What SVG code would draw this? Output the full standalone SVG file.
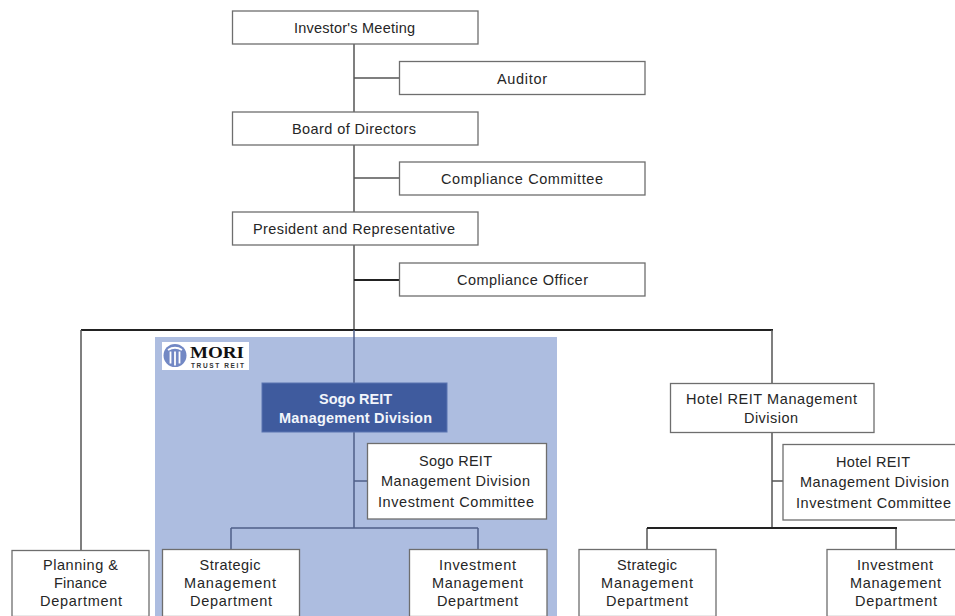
<svg xmlns="http://www.w3.org/2000/svg" width="955" height="616" viewBox="0 0 955 616">
<style>
.box{fill:#fff;stroke:#6e6e6e;stroke-width:1.3}
.t{font-family:"Liberation Sans",Arial,sans-serif;font-size:14.5px;fill:#262626;text-anchor:middle}
.w{fill:#f2f5fb;font-weight:700}
.c{fill:none;stroke:#555;stroke-width:1.5}
.k{fill:none;stroke:#222;stroke-width:2}
.b{fill:none;stroke:#4f5f88;stroke-width:1.5}
</style>
<rect id="sogo-area" x="155" y="337" width="402" height="279" fill="#adbde0"/>
<g id="connectors">
<path class="c" d="M354 44V330M354 78H399M354 178H399"/>
<path class="k" d="M354 280H399M81 330H773"/>
<path class="c" d="M81 330V550M772 330V383M772 433V528M772 481H783M647 528V549M896 528V549"/>
<path class="k" d="M647 528H897"/>
<path class="b" d="M354 330V383M354 432V528M354 481H367M231 528H478M231 528V549M478 528V549"/>
</g>
<g id="logo">
<rect x="162" y="342" width="87" height="28" fill="#fff"/>
<circle cx="175" cy="355.500" r="11.500" fill="#7288c4"/>
<path d="M168 350Q175 345.500 182 350M170.500 351.500V363.500M175 351.500V365.500M179.500 351.500V363.500" fill="none" stroke="#fff" stroke-width="1.800"/>
<text x="190" y="358" font-family="Liberation Serif,serif" font-size="16.500" font-weight="700" fill="#111" textLength="54" lengthAdjust="spacingAndGlyphs">MORI</text>
<text x="191" y="368" font-family="Liberation Sans,sans-serif" font-size="6.500" font-weight="700" fill="#333" textLength="53" lengthAdjust="spacing">TRUST REIT</text>
</g>
<g id="investors-meeting"><rect class="box" x="232.500" y="11" width="245.500" height="33"/><text class="t" x="354.500" y="33" textLength="121">Investor's Meeting</text></g>
<g id="auditor"><rect class="box" x="399.500" y="61.500" width="245.500" height="33"/><text class="t" x="522" y="83.500" textLength="50">Auditor</text></g>
<g id="board"><rect class="box" x="232.500" y="112" width="245.500" height="33"/><text class="t" x="354" y="134" textLength="124">Board of Directors</text></g>
<g id="compliance-committee"><rect class="box" x="399.500" y="162" width="245.500" height="33"/><text class="t" x="522" y="183.500" textLength="162">Compliance Committee</text></g>
<g id="president"><rect class="box" x="232.500" y="212" width="245.500" height="33"/><text class="t" x="354" y="234" textLength="202">President and Representative</text></g>
<g id="compliance-officer"><rect class="box" x="399.500" y="263" width="245.500" height="33"/><text class="t" x="522.500" y="285" textLength="131">Compliance Officer</text></g>
<g id="sogo-division"><rect x="262" y="383" width="185" height="49" fill="#3f5b9e" stroke="#5a74b0"/><text class="t w" x="355.500" y="404" textLength="73">Sogo REIT</text><text class="t w" x="355.500" y="422.500" textLength="153">Management Division</text></g>
<g id="sogo-committee"><rect class="box" x="367.500" y="443.500" width="179" height="75.500"/><text class="t" x="455.500" y="465.500" textLength="73">Sogo REIT</text><text class="t" x="455.500" y="485.500" textLength="149">Management Division</text><text class="t" x="456" y="507" textLength="156">Investment Committee</text></g>
<g id="planning"><rect class="box" x="12" y="550.500" width="137" height="66"/><text class="t" x="80.500" y="570" textLength="75">Planning &amp;</text><text class="t" x="80.500" y="588" textLength="53">Finance</text><text class="t" x="81" y="605.500" textLength="82">Department</text></g>
<g id="sogo-strategic"><rect class="box" x="162.500" y="549.500" width="137" height="67"/><text class="t" x="230" y="570" textLength="61">Strategic</text><text class="t" x="230" y="588" textLength="92">Management</text><text class="t" x="231" y="605.500" textLength="82">Department</text></g>
<g id="sogo-investment"><rect class="box" x="409.500" y="549.500" width="137.500" height="67"/><text class="t" x="477.500" y="570" textLength="77">Investment</text><text class="t" x="477.500" y="588" textLength="91">Management</text><text class="t" x="477.500" y="605.500" textLength="81">Department</text></g>
<g id="hotel-division"><rect class="box" x="670.500" y="383.500" width="203.500" height="49"/><text class="t" x="771.500" y="404" textLength="171">Hotel REIT Management</text><text class="t" x="771" y="422.500" textLength="54">Division</text></g>
<g id="hotel-committee"><rect class="box" x="783" y="444.500" width="180" height="75.500"/><text class="t" x="873" y="467" textLength="74">Hotel REIT</text><text class="t" x="874.500" y="487" textLength="149">Management Division</text><text class="t" x="873.500" y="507.500" textLength="155">Investment Committee</text></g>
<g id="hotel-strategic"><rect class="box" x="579" y="549.500" width="137" height="67"/><text class="t" x="647" y="570" textLength="60">Strategic</text><text class="t" x="647" y="588" textLength="92">Management</text><text class="t" x="647" y="605.500" textLength="82">Department</text></g>
<g id="hotel-investment"><rect class="box" x="827" y="549.500" width="140" height="67"/><text class="t" x="895" y="570" textLength="76">Investment</text><text class="t" x="895.500" y="588" textLength="91">Management</text><text class="t" x="896" y="605.500" textLength="82">Department</text></g>
</svg>
